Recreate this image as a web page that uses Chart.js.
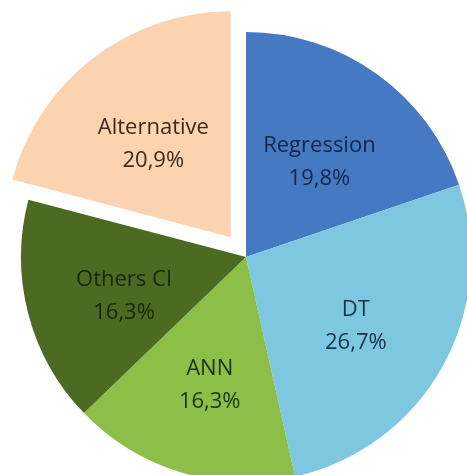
<!DOCTYPE html>
<html>
<head>
<meta charset="utf-8">
<script src="https://cdn.jsdelivr.net/npm/chart.js@4"></script>
<style>
    html, body { margin: 0; padding: 0; background: #fff; overflow: hidden; }
    #wrap { position: relative; width: 467px; height: 475px; }
</style>
</head>
<body>
<div id="wrap"><canvas id="pie"></canvas></div>
<script>
const categories = ['Regression', 'DT', 'ANN', 'Others CI', 'Alternative'];
const shares = [19.8, 26.7, 16.3, 16.3, 20.9];
const sliceColors = ['#4579C2', '#7EC7E0', '#8DBE48', '#4C6A22', '#FCD3B0'];
const labelColors = ['#14264a', '#163646', '#1c3410', '#182808', '#3c2a1c'];
// only the last slice is pulled out of the pie
const pulled = [0, 0, 0, 0, 100];

// same shift ArcElement applies when drawing an offset slice
function arcShift(arc) {
    const off = (arc.options.offset || 0) / 4;
    const circ = arc.endAngle - arc.startAngle;
    return off * (2 - Math.sin(Math.min(Math.PI, circ)));
}

// writes "name" and "xx,x%" inside each slice
const sliceLabels = {
    id: 'sliceLabels',
    afterDatasetsDraw(chart) {
        const ctx = chart.ctx;
        const meta = chart.getDatasetMeta(0);
        ctx.save();
        ctx.font = '22px "Open Sans", Lato, sans-serif';
        ctx.textAlign = 'center';
        ctx.textBaseline = 'middle';
        meta.data.forEach((arc, i) => {
            const mid = (arc.startAngle + arc.endAngle) / 2;
            const r = arc.outerRadius * 0.56 + arcShift(arc);
            const cx = arc.x + Math.cos(mid) * r;
            const cy = arc.y + Math.sin(mid) * r + 7;
            ctx.fillStyle = labelColors[i];
            ctx.fillText(categories[i], cx, cy - 16);
            ctx.fillText(shares[i].toFixed(1).replace('.', ',') + '%', cx, cy + 17);
        });
        ctx.restore();
    }
};

new Chart(document.getElementById('pie'), {
    type: 'pie',
    data: {
        labels: categories,
        datasets: [{
            data: shares,
            backgroundColor: sliceColors,
            borderWidth: 0,
            offset: pulled,
            radius: 225,
            clip: false
        }]
    },
    options: {
        responsive: true,
        maintainAspectRatio: false,
        animation: false,
        layout: { padding: { left: 25, top: 39, right: 0, bottom: 0 } },
        plugins: {
            legend: { display: false },
            tooltip: { enabled: false }
        }
    },
    plugins: [sliceLabels]
});
</script>
</body>
</html>
